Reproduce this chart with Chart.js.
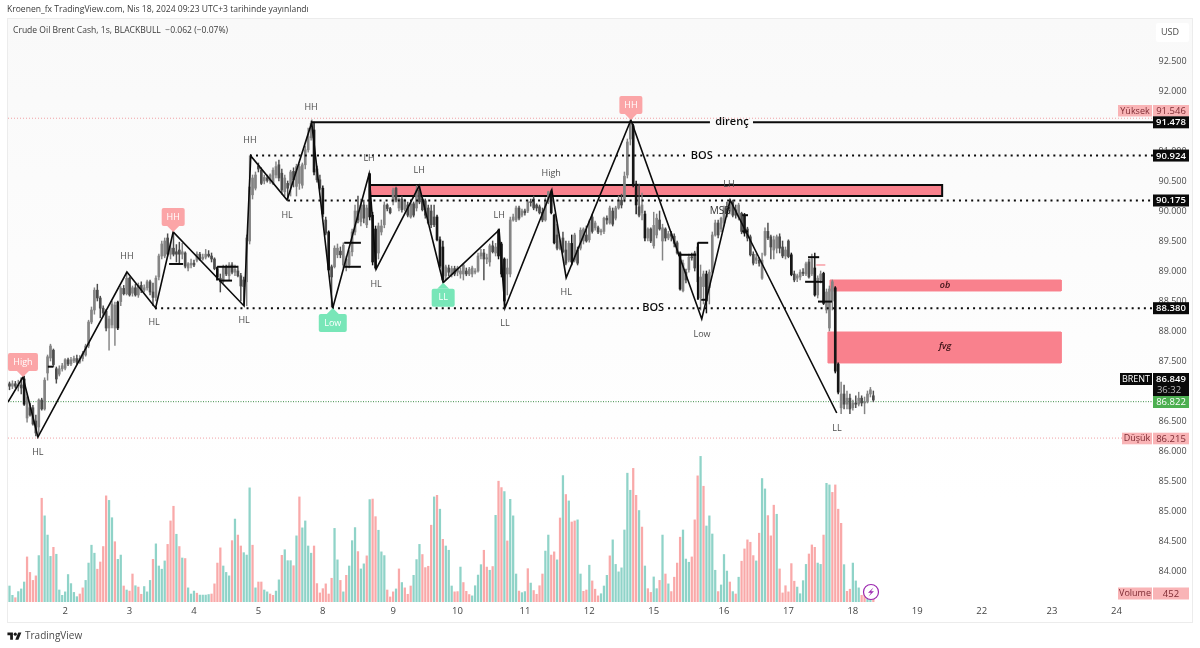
<!DOCTYPE html>
<html lang="tr">
<head>
<meta charset="utf-8">
<title>Crude Oil Brent Cash</title>
<script src="https://cdn.jsdelivr.net/npm/chart.js@4/dist/chart.umd.min.js"></script>
<style>
html,body{margin:0;padding:0;background:#fff;overflow:hidden}
#wrap{position:relative;width:1200px;height:648px;font-family:"Open Sans",sans-serif}
canvas{position:absolute;left:0;top:0}
.t{position:absolute;white-space:nowrap;line-height:1}
#pub{left:7px;top:5px;font-size:8.55px;color:#3a3a3a}
#leg{left:13px;top:26px;font-size:8.55px;color:#3a3a3a}
#foot{left:25px;top:630px;font-size:10px;color:#4a4a4a}
#logo{position:absolute;left:7px;top:631px;width:15px;height:11px}
</style>
</head>
<body>
<div id="wrap">
<canvas id="c" width="1200" height="648"></canvas>
<div class="t" id="pub">Kroenen_fx TradingView.com, Nis 18, 2024 09:23 UTC+3 tarihinde yayınlandı</div>
<div class="t" id="leg">Crude Oil Brent Cash, 1s, BLACKBULL&nbsp; −0.062 (−0.07%)</div>
<svg id="logo" viewBox="0 0 36 28"><path fill="#1a1a1a" d="M14 22H7V11H0V4h14v18zM28 22h-8l7.5-18h8L28 22z"/><circle fill="#1a1a1a" cx="20" cy="8" r="4"/></svg>
<div class="t" id="foot">TradingView</div>
</div>
<script>
const opens=[87.12,87.08,87.12,87.08,87.10,87.20,86.55,86.72,86.72,86.50,
86.40,86.85,86.70,87.30,87.55,87.68,87.37,87.28,87.37,87.38,
87.52,87.45,87.50,87.54,87.48,87.54,87.60,87.75,88.15,88.35,
88.68,88.55,88.38,88.33,88.05,88.10,88.05,88.48,88.49,88.71,
88.62,88.88,88.63,88.72,88.60,88.76,88.68,88.72,88.82,88.65,
88.56,88.90,89.25,89.25,89.55,89.28,89.38,89.32,89.35,89.28,
89.30,89.05,89.10,89.13,89.18,89.28,89.20,89.23,89.28,89.25,
89.20,89.04,88.88,88.83,89.06,88.92,89.10,88.98,89.00,88.92,
88.85,88.82,89.50,90.27,90.38,90.75,90.68,90.50,90.55,90.50,
90.46,90.60,90.77,90.63,90.32,90.46,90.43,90.66,90.41,90.46,
90.43,90.77,91.02,91.22,91.35,90.70,90.52,90.38,89.85,89.65,
89.07,89.07,89.27,89.33,89.10,89.07,89.10,89.32,89.65,90.00,
89.82,90.10,89.77,90.62,89.93,89.70,89.30,89.65,89.77,90.10,
90.04,90.15,90.38,90.05,90.20,90.03,90.10,89.90,90.12,90.05,
90.35,90.20,90.17,90.05,90.00,89.90,89.90,89.52,89.40,88.92,
89.05,88.94,89.04,88.98,88.95,88.95,89.00,88.95,88.95,88.98,
89.00,89.25,89.30,89.20,89.15,89.42,89.30,89.68,89.45,89.20,
88.95,88.95,89.85,89.85,90.05,89.93,90.00,90.00,90.15,90.20,
90.10,90.07,89.98,89.85,90.15,90.32,89.93,89.60,89.37,89.55,
89.35,89.18,89.46,89.18,89.35,89.38,89.50,89.60,89.52,89.90,
89.72,89.72,89.65,89.66,89.88,89.80,90.00,89.88,90.05,90.18,
90.20,90.60,91.20,91.42,90.45,90.07,89.97,89.95,89.55,89.70,
89.42,89.60,89.85,89.50,89.70,89.55,89.62,89.58,89.47,89.30,
88.67,88.98,89.02,89.23,89.30,88.82,88.55,88.74,88.95,88.72,
88.98,89.60,89.80,89.70,89.80,90.05,90.00,90.15,90.02,89.90,
89.96,89.93,89.70,89.57,89.28,89.18,89.18,88.88,89.27,89.66,
89.57,89.35,89.38,89.57,89.40,89.25,89.50,89.27,88.95,88.88,
88.90,88.98,88.95,89.15,88.95,89.05,88.60,88.85,88.96,88.35,
88.05,88.50,88.72,87.45,86.72,86.95,86.78,86.88,86.72,86.80,
86.78,86.88,86.80,86.82,86.95,86.92];
const highs=[87.15,87.17,87.16,87.18,87.22,87.25,86.95,86.80,86.76,86.60,
86.87,86.88,87.22,87.60,87.78,87.70,87.40,87.42,87.46,87.54,
87.55,87.56,87.58,87.60,87.59,87.66,87.78,88.18,88.40,88.72,
88.78,88.58,88.42,88.36,88.25,88.50,88.48,88.50,88.74,88.76,
88.98,88.90,88.75,88.78,88.80,88.82,88.77,88.85,88.85,88.80,
88.92,89.28,89.50,89.55,89.62,89.48,89.65,89.44,89.48,89.46,
89.32,89.14,89.20,89.18,89.32,89.31,89.28,89.36,89.34,89.30,
89.22,89.06,88.95,89.10,89.10,89.14,89.14,89.10,89.08,88.96,
88.90,89.60,90.92,90.60,90.65,90.80,90.72,90.60,90.60,90.62,
90.72,90.82,90.85,90.70,90.60,90.50,90.68,90.72,90.78,90.78,
90.80,91.08,91.38,91.50,91.48,90.75,90.60,90.42,89.90,89.67,
89.10,89.42,89.45,89.40,89.47,89.25,89.35,89.70,90.10,90.25,
90.20,90.18,90.10,90.63,89.98,89.75,89.80,89.85,90.15,90.12,
90.06,90.38,90.40,90.22,90.25,90.20,90.15,90.15,90.15,90.42,
90.43,90.25,90.20,90.10,90.10,90.10,89.93,89.57,89.50,89.10,
89.10,89.08,89.08,89.08,89.05,89.12,89.05,89.06,89.08,89.04,
89.30,89.36,89.36,89.28,89.45,89.50,89.46,89.70,89.48,89.22,
89.20,89.90,89.95,90.08,90.08,90.03,90.03,90.18,90.20,90.25,
90.12,90.10,90.05,90.22,90.33,90.35,89.95,89.78,89.52,89.65,
89.50,89.50,89.60,89.63,89.40,89.72,89.72,89.75,89.85,89.95,
89.83,89.75,89.70,89.90,89.92,90.08,90.05,90.08,90.25,90.28,
90.65,91.20,91.52,91.45,90.50,90.45,90.30,90.00,89.72,89.72,
89.98,89.95,90.00,89.78,89.72,89.66,89.66,89.62,89.50,89.32,
89.18,89.03,89.28,89.30,89.33,89.48,89.10,89.00,89.00,89.02,
89.65,89.85,89.85,89.90,90.08,90.15,90.20,90.18,90.10,90.13,
89.98,89.96,89.73,89.60,89.32,89.28,89.22,89.30,89.72,89.80,
89.60,89.58,89.60,89.62,89.50,89.40,89.52,89.30,89.00,88.95,
89.02,89.04,89.15,89.20,89.28,89.30,88.92,89.00,88.98,88.70,
88.75,88.85,88.74,87.47,87.15,87.10,87.00,86.95,86.85,86.92,
86.98,86.92,86.90,87.00,87.06,87.00];
const lows=[87.02,87.04,87.05,87.00,86.95,86.76,86.48,86.58,86.43,86.25,
86.28,86.68,86.68,87.18,87.50,87.40,87.13,87.25,87.33,87.35,
87.42,87.42,87.47,87.45,87.46,87.50,87.58,87.72,88.12,88.28,
88.50,88.22,88.25,88.00,87.68,88.05,87.76,88.02,88.42,88.60,
88.60,88.58,88.58,88.58,88.56,88.64,88.65,88.68,88.60,88.42,
88.50,88.85,89.20,89.22,89.25,89.20,89.25,89.15,89.12,89.20,
89.05,89.00,89.05,89.07,89.15,89.18,89.18,89.20,89.23,89.15,
89.02,88.88,88.65,88.80,88.92,88.85,88.95,88.92,88.90,88.50,
88.42,88.42,89.45,90.20,90.35,90.65,90.44,90.45,90.48,90.46,
90.44,90.55,90.50,90.28,90.25,90.20,90.25,90.40,90.25,90.36,
90.38,90.70,90.98,91.18,90.60,90.48,90.35,89.90,89.60,89.00,
88.40,89.05,89.22,89.22,89.05,89.00,89.05,89.25,89.60,89.80,
89.75,89.80,89.72,89.85,89.10,89.03,89.20,89.60,89.72,90.00,
89.95,90.10,90.15,90.00,89.98,90.00,89.90,89.88,89.90,90.00,
90.12,90.00,89.88,89.78,89.72,89.74,89.50,89.05,88.83,88.85,
88.92,88.90,88.92,88.92,88.88,88.85,88.92,88.92,88.90,88.95,
88.98,89.20,88.85,89.12,89.08,89.30,89.25,89.20,88.90,88.40,
88.60,88.90,89.83,89.82,89.85,89.90,89.93,89.97,90.08,90.02,
90.00,89.95,89.82,89.83,90.12,89.95,89.45,89.35,89.35,89.30,
89.10,89.15,89.10,89.15,89.10,89.35,89.45,89.48,89.48,89.63,
89.68,89.62,89.60,89.62,89.78,89.78,89.75,89.85,90.03,90.05,
90.15,90.55,91.10,90.40,89.95,89.90,89.85,89.50,89.50,89.47,
89.38,89.55,89.68,89.18,89.50,89.52,89.50,89.40,89.28,88.68,
88.65,88.80,88.98,89.18,89.00,88.60,88.35,88.45,88.30,88.45,
88.95,89.58,89.55,89.65,89.75,89.90,89.95,89.90,89.88,89.85,
89.62,89.58,89.50,89.25,89.10,89.12,89.08,88.86,89.25,89.52,
89.20,89.20,89.30,89.30,89.22,89.20,89.22,88.92,88.82,88.82,
88.85,88.92,88.92,88.88,88.92,88.58,88.55,88.80,88.44,88.30,
88.00,88.35,87.30,86.95,86.62,86.70,86.70,86.62,86.68,86.72,
86.75,86.75,86.62,86.80,86.90,86.82];
const closes=[87.08,87.12,87.08,87.10,87.05,86.78,86.90,86.60,86.45,86.30,
86.85,86.70,87.18,87.57,87.75,87.44,87.20,87.37,87.42,87.52,
87.45,87.52,87.54,87.48,87.54,87.62,87.75,88.15,88.35,88.68,
88.55,88.38,88.30,88.05,88.20,88.45,88.43,88.05,88.71,88.62,
88.88,88.60,88.72,88.60,88.76,88.68,88.72,88.82,88.65,88.56,
88.88,89.25,89.45,89.50,89.28,89.38,89.28,89.28,89.28,89.32,
89.08,89.12,89.13,89.10,89.28,89.20,89.23,89.28,89.25,89.20,
89.04,88.90,88.82,89.06,88.95,89.10,88.98,89.03,88.92,88.75,
88.74,89.55,90.40,90.55,90.60,90.70,90.46,90.56,90.51,90.60,
90.68,90.74,90.55,90.35,90.55,90.38,90.65,90.52,90.74,90.74,
90.77,91.02,91.24,91.46,90.65,90.52,90.38,89.95,89.63,89.02,
88.90,89.38,89.38,89.27,89.43,89.20,89.32,89.65,90.00,89.85,
90.10,89.88,90.05,89.90,89.15,89.05,89.75,89.75,90.10,90.04,
89.97,90.35,90.18,90.20,90.02,90.18,89.93,90.12,89.93,90.35,
90.15,90.02,89.93,89.80,89.77,89.77,89.52,89.08,88.85,89.07,
88.98,89.04,88.95,89.05,89.00,89.10,88.95,89.03,89.05,89.00,
89.25,89.30,89.20,89.22,89.42,89.32,89.40,89.25,88.95,88.50,
89.05,89.85,89.90,90.05,89.88,90.00,89.97,90.15,90.14,90.05,
90.05,89.97,89.85,90.18,90.32,89.97,89.47,89.38,89.50,89.32,
89.13,89.46,89.15,89.60,89.13,89.68,89.70,89.50,89.82,89.66,
89.80,89.65,89.67,89.88,89.85,90.05,89.78,90.05,90.18,90.10,
90.58,91.15,91.45,90.45,90.10,89.93,90.10,89.55,89.70,89.50,
89.76,89.88,89.70,89.72,89.55,89.62,89.58,89.46,89.30,88.70,
89.13,88.85,89.23,89.22,89.05,89.40,88.90,88.95,88.50,88.98,
89.60,89.80,89.60,89.88,90.05,89.95,90.15,89.93,89.93,90.10,
89.66,89.63,89.55,89.27,89.13,89.22,89.13,89.18,89.66,89.55,
89.40,89.52,89.57,89.38,89.25,89.35,89.24,88.94,88.85,88.92,
88.98,88.96,89.12,88.90,89.20,88.60,88.88,88.95,88.46,88.65,
88.70,88.82,87.33,86.98,86.95,86.78,86.88,86.70,86.80,86.78,
86.88,86.80,86.82,86.95,87.02,86.85];
const volumes=[600,250,160,390,490,750,1690,1110,810,980,
1740,3890,3230,2510,1710,2050,1790,450,250,380,
1030,690,360,200,300,530,810,1460,2130,1830,
1230,1500,2080,3980,3810,3160,2260,1600,1760,600,
450,410,1050,610,560,290,580,380,810,1600,
2180,1350,1230,1540,2160,3040,3590,2540,2080,1650,
1630,530,300,410,330,260,260,260,280,300,
680,1460,2030,1350,1110,980,2300,3110,2510,2100,
1850,1760,4280,2130,530,750,750,450,380,300,
250,410,830,1750,1960,1550,1550,1360,2480,3940,
2780,3040,2100,1830,2100,690,340,500,680,300,
890,2760,1580,810,380,1000,1350,2300,2790,1890,
1240,1430,1730,3840,3860,3200,2690,1880,1740,450,
190,380,490,1240,730,530,290,600,1000,1590,
2160,1780,1290,1340,2880,3940,4000,3480,2350,2100,
1940,600,380,390,1310,730,400,280,230,610,
1010,1400,1940,1310,1190,1330,3250,4530,4290,4140,
2290,3850,3230,1050,410,350,390,1250,710,430,
290,610,1050,1910,2510,1760,1880,1580,3150,4740,
4030,3790,3000,3040,3080,1050,400,450,1380,790,
480,230,310,600,1000,1730,2330,1410,1130,1280,
2700,4830,4190,5010,4000,3430,2810,1350,500,360,
940,500,810,2510,1050,680,390,930,1460,2430,
2700,1610,1490,1690,3080,4730,5460,4340,2850,3230,
2550,1190,390,640,1780,1160,750,390,300,930,
1530,1990,2330,2240,1740,1540,2580,4630,4240,3240,
2480,3630,3290,1240,340,610,380,1440,780,560,
310,800,1410,1800,2140,2050,1460,1410,2510,4450,
4390,4110,4390,3480,2950,1400,400,480,1460,790,
530,250,380,310,440,452];
const volumeSides=("ttrtttrrrr"+"trtttrtttt"+"ttttrrtttt"+"rrrrttrttr"+"trrtrrtttr"+"ttttrrrtrt"+"rtttrttttr"+"rrrtttrtrr"+"tttrtrrttr"+"rttrtttrtr"+
"ttttrrrrrr"+"rttrtrtttr"+"ttrtrrtttr"+"rrtrtrrrtt"+"trrrrtrtrt"+"ttrrtrrrtt"+"ttrrtrtrrt"+"rtttrttrtr"+"rrrttrrtrt"+"rtrrttrrtr"+
"rrtttrtttt"+"tttrrtrtrr"+"ttrtrtrrrr"+"tttrrrtrtt"+"ttrtttrtrt"+"rrrrrtrttr"+"rrtrrrrrrt"+"tttrrrttrt"+"trrrrtrrtt"+"trrttr").split("");

const priceTicks=[84,84.5,85,85.5,86,86.5,87,87.5,88,88.5,89,89.5,90,90.5,91,91.5,92,92.5];
const dayIndexes=[19,41,63,85,107,131,153,176,198,220,244,266,288,310,332,356,378];
const dayLabels=["2","3","4","5","8","9","10","11","12","15","16","17","18","19","22","23","24"];

const zigzagIdx=[-0.5,4.6,9.7,40.1,49.9,55.9,80.1,82.4,94.8,103.2,110.4,122.8,125.2,139.9,148.1,167.2,169.2,185.2,190.1,212.2,236.4,246.1,282.5];
const zigzagPrice=[86.817,87.233,86.233,88.983,88.383,89.65,88.417,90.917,90.183,91.472,88.383,90.617,89.033,90.42,88.805,89.683,88.383,90.35,88.888,91.517,88.2,90.183,86.633];

const stubX1=[54.5,13.1,70.9,71.9,70.9,114.3,114.3,228.3,235.1,236.2,235.1,250.2,250.2,272.7,271.7,276.1];
const stubX2=[59.3,14.9,78,76,70.9,120,120,234.5,238.6,237.9,235.1,252.2,252.2,276.5,277.8,280.9];
const stubP1=[89.117,87.405,89.07,88.84,89.07,89.47,89.07,89.27,89.47,88.52,89.47,89.93,89.66,89.23,88.82,88.49];
const stubP2=[89.117,87.405,89.07,88.84,88.84,89.47,89.07,89.27,89.47,88.52,88.52,89.93,89.66,89.23,88.82,88.49];

const sessionHigh=91.546, sessionLow=86.215, lastPrice=86.822, closeTag=86.849;
const resistance=91.478, bosUpper=90.924, midLevel=90.175, bosLower=88.38;

const boxNames=["supply","ob","fvg"];
const boxX1=[123.1,280.2,279.5];
const boxX2=[318.5,359.1,359.1];
const boxTop=[90.433,88.85,87.983];
const boxBottom=[90.25,88.667,87.467];

const noteText=["HL","HH","HL","HH","HL","HL","HH","LH","HL","LH","LH","High","HL","LL","Low","LH","LL"];
const noteIdx=[9.7,40.1,49.4,82.1,80.1,94.8,103,122.8,125.2,139.9,167.2,185,190.1,169.2,236.5,245.7,282.6];
const notePrice=[85.98,89.25,88.15,91.18,88.17,89.93,91.73,90.88,88.77,90.68,89.93,90.62,88.65,88.12,87.95,90.45,86.38];

const calloutText=["High","HH","HH","Low","LL"];
const calloutIdx=[4.6,55.9,212.2,110.4,148.1];
const calloutPrice=[87.233,89.65,91.517,88.383,88.805];
const calloutSide=["down","down","down","up","up"];

if([highs,lows,closes,volumes,volumeSides].some(a=>a.length!==opens.length)) throw new Error("length mismatch "+[opens,highs,lows,closes,volumes,volumeSides].map(a=>a.length));

const X_MIN=-0.51, X_MAX=390.5;
const lineDs=(pts,color,width,dash,order)=>({type:"line",data:pts,borderColor:color,borderWidth:width,borderDash:dash||[],pointRadius:0,tension:0,fill:false,order,yAxisID:"y",spanGaps:false,borderCapStyle:"butt"});
const dotted=[2,4.1];
const datasets=[];

// zigzag
datasets.push(lineDs(zigzagIdx.map((x,i)=>({x,y:zigzagPrice[i]})),"#0b0b0b",1.6,null,1));
// stubs
stubX1.forEach((x,i)=>datasets.push(lineDs([{x,y:stubP1[i]},{x:stubX2[i],y:stubP2[i]}],"#0b0b0b",2,null,2)));
datasets.push(lineDs([{x:275.5,y:89.1},{x:278.6,y:89.1}],"#f6868f",1.2,null,2));
// levels
datasets.push(lineDs([{x:103,y:resistance},{x:239.2,y:resistance}],"#0b0b0b",2,null,3));
datasets.push(lineDs([{x:253.9,y:resistance},{x:X_MAX,y:resistance}],"#0b0b0b",2,null,3));
datasets.push(lineDs([{x:82.1,y:bosUpper},{x:230.7,y:bosUpper}],"#0b0b0b",2,dotted,3));
datasets.push(lineDs([{x:241.9,y:bosUpper},{x:X_MAX,y:bosUpper}],"#0b0b0b",2,dotted,3));
datasets.push(lineDs([{x:95.1,y:midLevel},{x:X_MAX,y:midLevel}],"#0b0b0b",2,dotted,3));
datasets.push(lineDs([{x:49.7,y:bosLower},{x:215.3,y:bosLower}],"#0b0b0b",2,dotted,3));
datasets.push(lineDs([{x:224.9,y:bosLower},{x:X_MAX,y:bosLower}],"#0b0b0b",2,dotted,3));
datasets.push(lineDs([{x:X_MIN,y:sessionHigh},{x:X_MAX,y:sessionHigh}],"#f0a0a4",1,[1,2],9));
datasets.push(lineDs([{x:X_MIN,y:sessionLow},{x:X_MAX,y:sessionLow}],"#f0a0a4",1,[1,2],9));
datasets.push(lineDs([{x:X_MIN,y:lastPrice},{x:X_MAX,y:lastPrice}],"#3f8f4a",1,[1,1.5],9));
// boxes
boxNames.forEach((n,i)=>{
  const d=lineDs([{x:boxX1[i],y:boxTop[i]},{x:boxX2[i],y:boxTop[i]},{x:boxX2[i],y:boxBottom[i]},{x:boxX1[i],y:boxBottom[i]},{x:boxX1[i],y:boxTop[i]}],i===0?"#0b0b0b":"#f9818d",i===0?2:1,null,7);
  d.fill="shape"; d.backgroundColor="#f9818d"; d.label=n;
  datasets.push(d);
});
// candles
const candleColor=i=>{
  const move=opens[i]-closes[i];
  return move>=0.3?"#161616":(move>0?"#4c4c4c":"#848484");
};
datasets.push({type:"bar",data:opens.map((o,i)=>({x:i,y:[lows[i],highs[i]]})),backgroundColor:opens.map((o,i)=>candleColor(i)),barThickness:0.8,grouped:false,order:6,yAxisID:"y"});
datasets.push({type:"bar",data:opens.map((o,i)=>({x:i,y:[Math.min(o,closes[i]),Math.max(o,closes[i])]})),backgroundColor:opens.map((o,i)=>candleColor(i)),barThickness:2,grouped:false,order:5,yAxisID:"y",minBarLength:1});
// volume
datasets.push({type:"bar",data:volumes.map((v,i)=>({x:i,y:v})),backgroundColor:volumeSides.map(s=>s==="t"?"#8fd3c8":"#f9a9a9"),barThickness:1.6,grouped:false,order:10,yAxisID:"vol"});

const FONT='"Open Sans",sans-serif';
const pane={id:"pane",beforeDraw(ch){
  const c=ch.ctx;c.save();
  const g=c.createLinearGradient(0,19,0,500);g.addColorStop(0,"#f9f9f9");g.addColorStop(1,"#ffffff");
  c.fillStyle=g;c.fillRect(8,19,1184,603);
  c.strokeStyle="#ececec";c.lineWidth=1;c.strokeRect(7.5,18.5,1185,604);
  c.restore();
}};
function tag(c,x,y,w,h,bg,fg,text,font,align){
  c.fillStyle=bg;c.fillRect(x,y,w,h);
  c.fillStyle=fg;c.font=font||("9.5px "+FONT);c.textAlign=align||"center";c.textBaseline="middle";
  c.fillText(text,x+w/2,y+h/2+0.3);
}
const overlay={id:"overlay",afterDraw(ch){
  const c=ch.ctx,X=ch.scales.x,Y=ch.scales.y;
  c.save();
  c.textAlign="center";c.textBaseline="middle";
  // swing notes
  c.fillStyle="#4d4d4d";c.font="9px "+FONT;
  noteText.forEach((t,i)=>c.fillText(t,X.getPixelForValue(noteIdx[i]),Y.getPixelForValue(notePrice[i])));
  c.fillStyle="#2b2b2b";c.font="10px "+FONT;
  c.fillText("MSB",X.getPixelForValue(242.7),Y.getPixelForValue(90));
  // line captions
  c.fillStyle="#0b0b0b";c.font="600 11px "+FONT;
  c.fillText("direnç",X.getPixelForValue(246.7),Y.getPixelForValue(resistance));
  c.fillText("BOS",X.getPixelForValue(236.4),Y.getPixelForValue(bosUpper));
  c.fillText("BOS",X.getPixelForValue(219.8),Y.getPixelForValue(bosLower));
  c.font="italic 600 9px "+FONT;c.fillStyle="#3a1015";
  c.fillText("ob",X.getPixelForValue(319.5),Y.getPixelForValue(88.76));
  c.fillText("fvg",X.getPixelForValue(319.5),Y.getPixelForValue(87.75));
  // callouts
  calloutText.forEach((t,i)=>{
    const px=X.getPixelForValue(calloutIdx[i]),py=Y.getPixelForValue(calloutPrice[i]);
    const down=calloutSide[i]==="down",w=t==="Low"?28:(t==="High"?30:23),h=18;
    const top=down?py-6-h:py+6;
    c.fillStyle=down?"#fba5a7":"#78e6b8";
    c.beginPath();c.roundRect(px-w/2,top,w,h,2);c.fill();
    c.beginPath();
    if(down){c.moveTo(px-6,py-6);c.lineTo(px+6,py-6);c.lineTo(px,py);}
    else{c.moveTo(px-6,py+6);c.lineTo(px+6,py+6);c.lineTo(px,py);}
    c.fill();
    c.fillStyle="#fff";c.font="9px "+FONT;c.textAlign="center";c.textBaseline="middle";
    c.fillText(t,px,top+h/2);
  });
  // price tags
  const bx=1153,bw=36,bf="600 9.5px "+FONT;
  const yOf=p=>Y.getPixelForValue(p);
  tag(c,1118,105,34,11.5,"#f9b4b6","#7e2b33","Yüksek","9px "+FONT);
  tag(c,bx,105,bw,11.5,"#f9b4b6","#7e2b33","91.546","9.5px "+FONT);
  [resistance,bosUpper,midLevel,bosLower].forEach(p=>tag(c,bx,yOf(p)-6,bw,12,"#0a0a0a","#fff",p.toFixed(3),bf));
  tag(c,1120,373,32,12,"#0a0a0a","#fff","BRENT","9px "+FONT);
  c.fillStyle="#0a0a0a";c.fillRect(bx,373,bw,23);
  c.fillStyle="#fff";c.font=bf;c.fillText(closeTag.toFixed(3),bx+bw/2,379.3);
  c.fillStyle="#bdbdbd";c.font="9.5px "+FONT;c.fillText("36:32",bx+bw/2-2,389.8);
  tag(c,bx,396,bw,12,"#4caf50","#fff",lastPrice.toFixed(3),"9.5px "+FONT);
  tag(c,1122,432.7,30,11.6,"#f9b4b6","#7e2b33","Düşük","9px "+FONT);
  tag(c,bx,432.7,bw,11.6,"#f9b4b6","#7e2b33",sessionLow.toFixed(3),"9.5px "+FONT);
  tag(c,1118,587.5,34,12,"#f9b4b6","#7e2b33","Volume","9px "+FONT);
  tag(c,bx,587.5,bw,12,"#f9b4b6","#7e2b33","452","9.5px "+FONT);
  // currency button
  c.fillStyle="#fff";c.beginPath();c.roundRect(1156,23,33,19,2);c.fill();
  c.fillStyle="#4a4a4a";c.font="9px "+FONT;c.textAlign="center";c.fillText("USD",1170,32.7);
  // bolt badge
  c.fillStyle="#fff";c.beginPath();c.arc(871,592,7.5,0,Math.PI*2);c.fill();
  c.strokeStyle="#9c27b0";c.lineWidth=1.2;c.stroke();
  c.fillStyle="#9c27b0";c.beginPath();
  c.moveTo(873.5,587.5);c.lineTo(868,592.8);c.lineTo(871,592.8);c.lineTo(868.5,596.5);c.lineTo(874,591.2);c.lineTo(871,591.2);c.closePath();c.fill();
  c.restore();
}};

new Chart(document.getElementById("c"),{
  data:{datasets},
  plugins:[pane,overlay],
  options:{
    responsive:false,animation:false,events:[],
    layout:{padding:{left:8,top:19,right:8,bottom:26}},
    plugins:{legend:{display:false},tooltip:{enabled:false}},
    scales:{
      x:{type:"linear",offset:false,min:X_MIN,max:X_MAX,grid:{display:false,offset:false,drawTicks:false,tickLength:0},border:{display:false},
        afterBuildTicks(s){s.ticks=dayIndexes.map(v=>({value:v}));},
        afterFit(s){s.height=20;s.paddingLeft=0;s.paddingRight=0;},
        ticks:{autoSkip:false,maxRotation:0,padding:4,color:"#444",font:{family:FONT,size:9.5},callback:v=>dayLabels[dayIndexes.indexOf(v)]}},
      y:{type:"linear",position:"right",min:83.483,max:93.2,grid:{display:false,drawTicks:false,tickLength:0},border:{display:false},
        afterBuildTicks(s){s.ticks=priceTicks.map(v=>({value:v}));},
        afterFit(s){s.width=39;},
        ticks:{padding:5.5,color:"#4a4a4a",font:{family:FONT,size:9},callback:v=>Number(v).toFixed(3)}},
      vol:{type:"linear",display:false,min:0,max:21860}
    }
  }
});
</script>
</body>
</html>
